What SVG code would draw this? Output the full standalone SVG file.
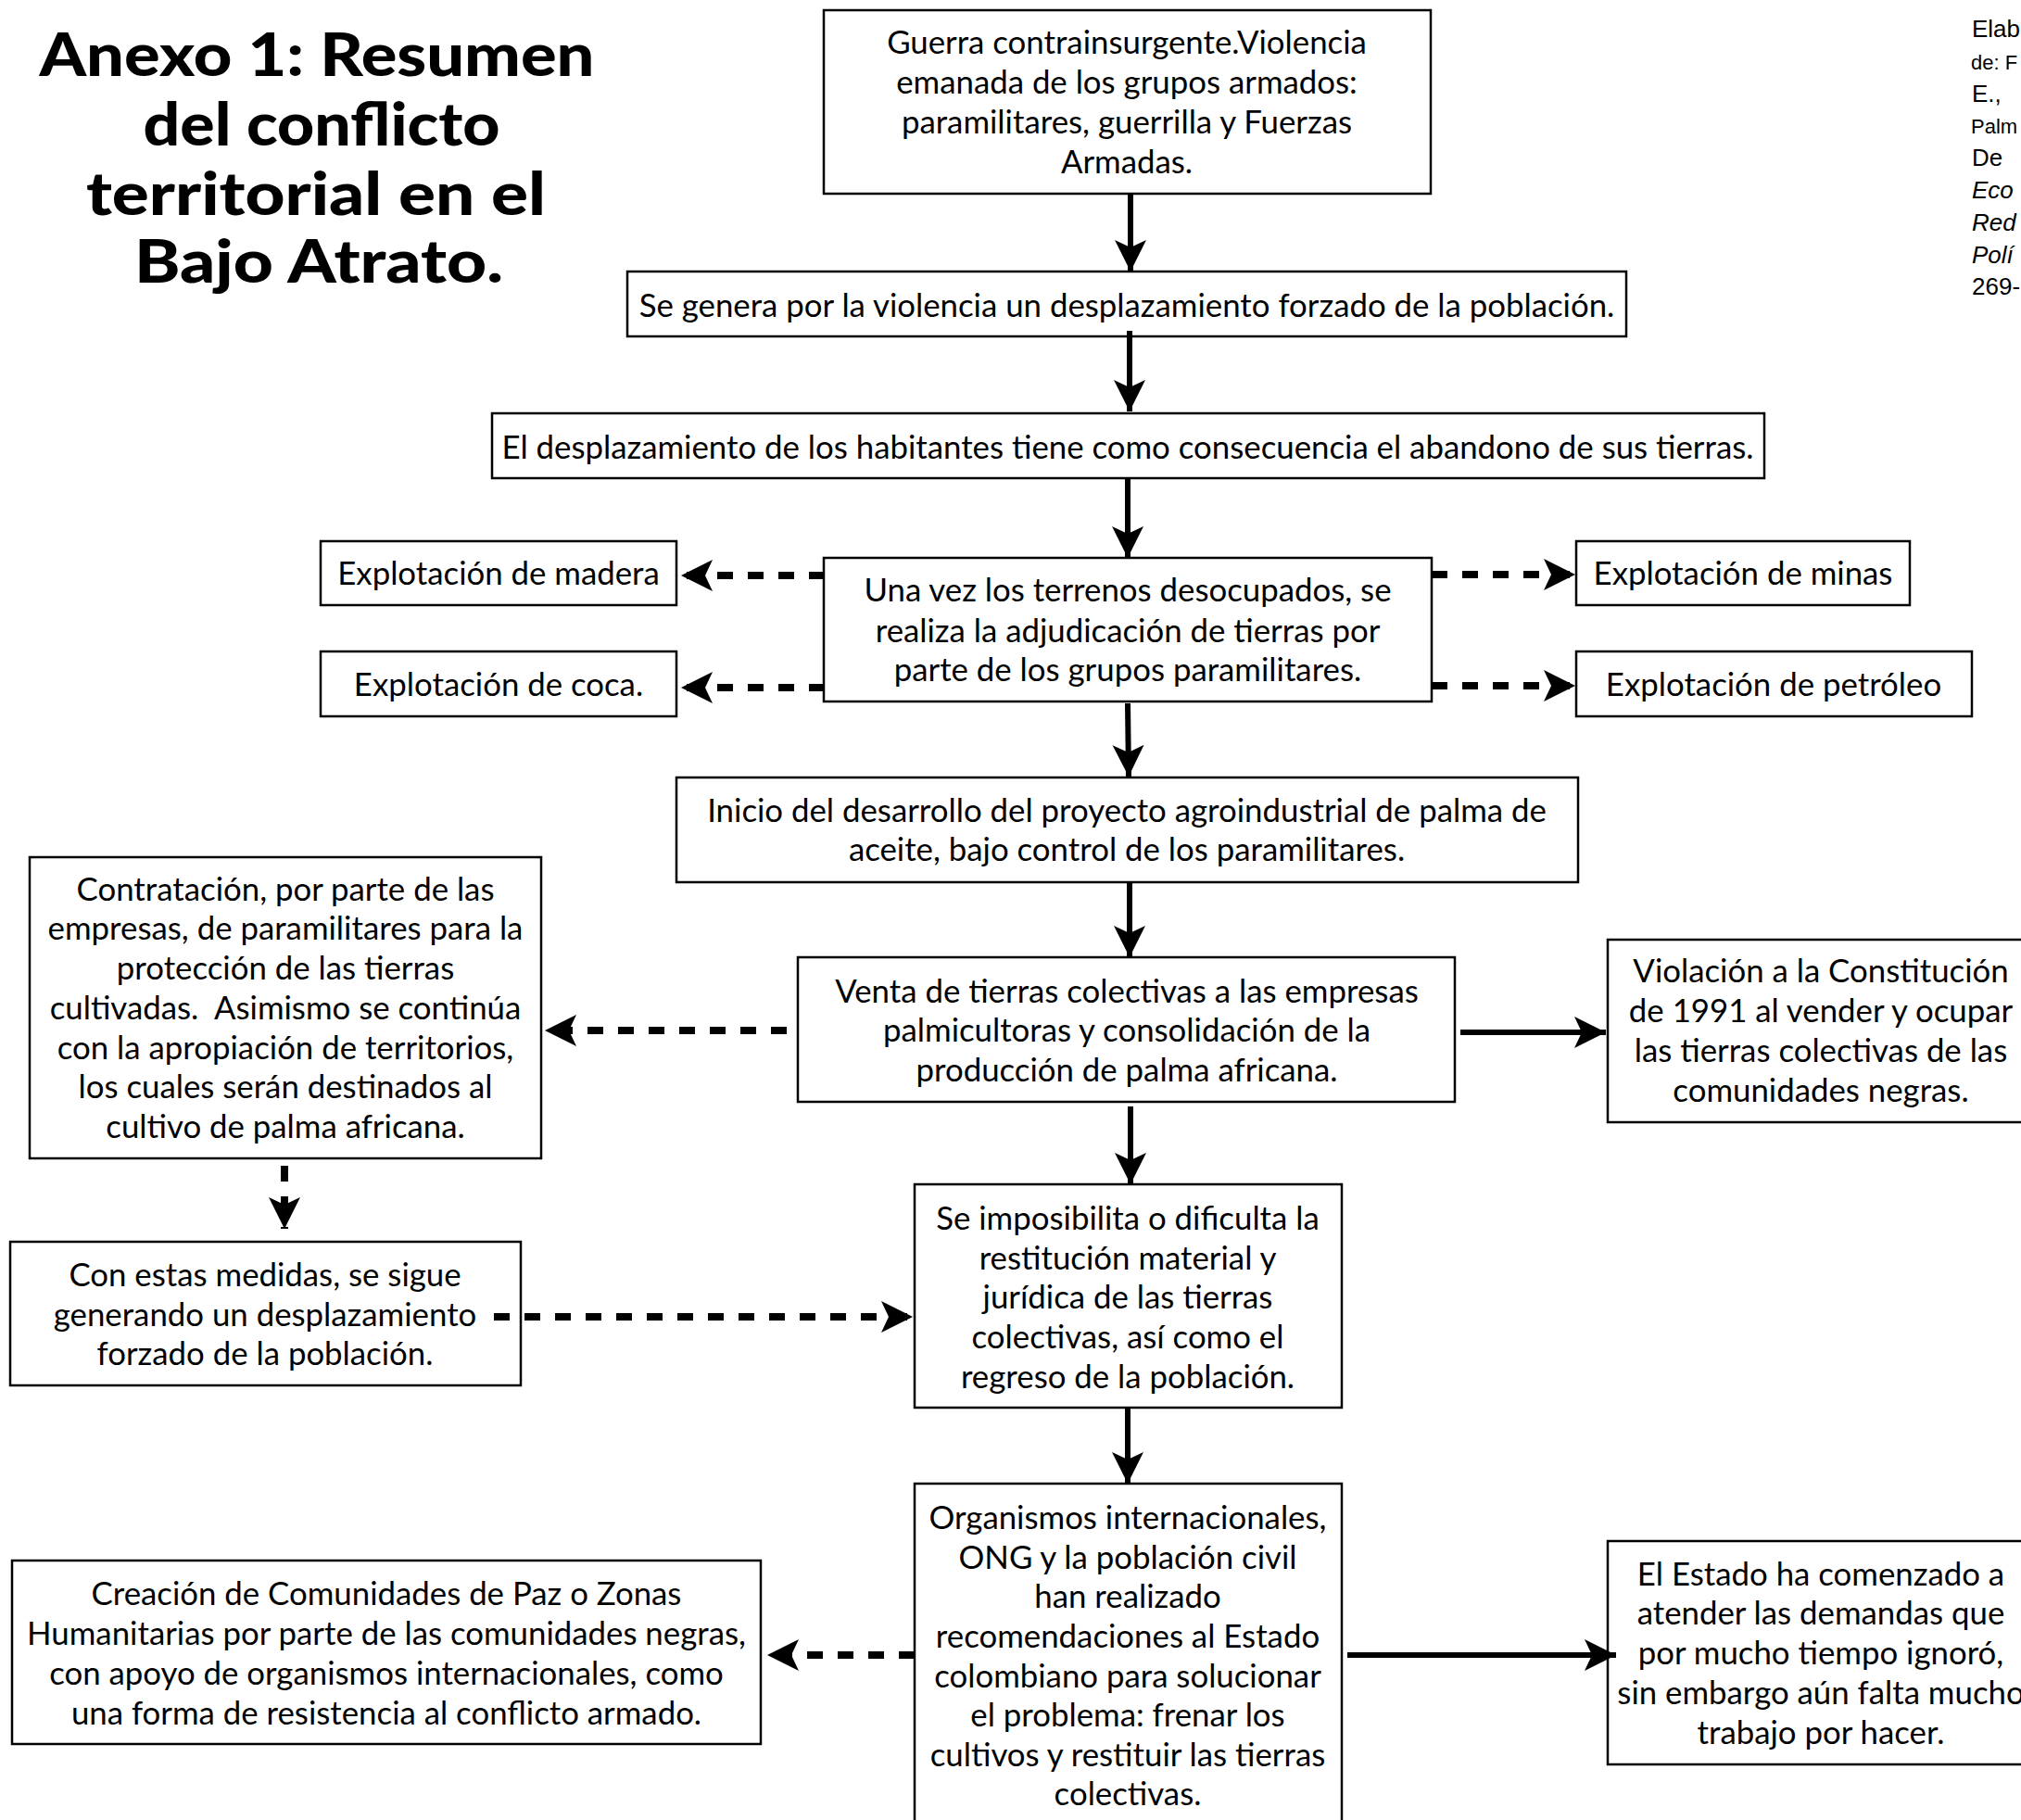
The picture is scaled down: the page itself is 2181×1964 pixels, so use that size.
<svg xmlns="http://www.w3.org/2000/svg" width="2181" height="1964" viewBox="0 0 2181 1964">
<style>
.box{fill:#fff;stroke:#000;stroke-width:2.5}
.t{font-family:Lato,"Open Sans","Liberation Sans",sans-serif;font-size:34.8px;fill:#000;text-anchor:middle}
.title{font-family:Lato,"Open Sans","Liberation Sans",sans-serif;font-weight:900;font-size:64px;fill:#000;text-anchor:middle}
.side{font-family:"Liberation Sans",Arial,sans-serif;font-size:26px;fill:#000}
.side.sm{font-size:22px}
.solid{stroke:#000;stroke-width:6;fill:none;marker-end:url(#ah)}
.dash{stroke:#000;stroke-width:8;fill:none;stroke-dasharray:17 16;marker-end:url(#ah)}
</style>
<defs>
<marker id="ah" markerUnits="userSpaceOnUse" viewBox="-34 -18 36 36" refX="0" refY="0" markerWidth="36" markerHeight="36" orient="auto">
<path d="M0,0 L-34,-17 L-26,0 L-34,17 Z" fill="#000"/>
</marker>
</defs>
<rect width="2181" height="1964" fill="#fff"/>

<g id="title">
<text class="title" x="342" y="82" textLength="599" lengthAdjust="spacingAndGlyphs">Anexo 1: Resumen</text>
<text class="title" x="347" y="157" textLength="385" lengthAdjust="spacingAndGlyphs">del conflicto</text>
<text class="title" x="341" y="232" textLength="496" lengthAdjust="spacingAndGlyphs">territorial en el</text>
<text class="title" x="344" y="305" textLength="398" lengthAdjust="spacingAndGlyphs">Bajo Atrato.</text>
</g>

<g id="source">
<text class="side" x="2128" y="40">Elab</text>
<text class="side sm" x="2127" y="75">de: F</text>
<text class="side" x="2128" y="110">E.,</text>
<text class="side sm" x="2127" y="144">Palm</text>
<text class="side" x="2128" y="179">De</text>
<text class="side" x="2128" y="214" font-style="italic">Eco</text>
<text class="side" x="2128" y="249" font-style="italic">Red</text>
<text class="side" x="2128" y="284" font-style="italic">Polí</text>
<text class="side" x="2128" y="318">269-</text>
</g>

<g id="n1">
<rect class="box" x="889" y="11" width="655" height="198"/>
<text class="t" x="1216" y="58">Guerra contrainsurgente.Violencia</text>
<text class="t" x="1216" y="101">emanada de los grupos armados:</text>
<text class="t" x="1216" y="144">paramilitares, guerrilla y Fuerzas</text>
<text class="t" x="1216" y="187">Armadas.</text>
</g>

<g id="n2">
<rect class="box" x="677" y="293" width="1078" height="70"/>
<text class="t" x="1216" y="342">Se genera por la violencia un desplazamiento forzado de la población.</text>
</g>

<g id="n3">
<rect class="box" x="531" y="446" width="1373" height="70"/>
<text class="t" x="1217" y="495">El desplazamiento de los habitantes tiene como consecuencia el abandono de sus tierras.</text>
</g>

<g id="n4">
<rect class="box" x="889" y="602" width="656" height="155"/>
<text class="t" x="1217" y="649">Una vez los terrenos desocupados, se</text>
<text class="t" x="1217" y="693">realiza la adjudicación de tierras por</text>
<text class="t" x="1217" y="735">parte de los grupos paramilitares.</text>
</g>

<g id="madera">
<rect class="box" x="346" y="584" width="384" height="69"/>
<text class="t" x="538" y="631">Explotación de madera</text>
</g>

<g id="coca">
<rect class="box" x="346" y="703" width="384" height="70"/>
<text class="t" x="538" y="751">Explotación de coca.</text>
</g>

<g id="minas">
<rect class="box" x="1701" y="584" width="360" height="69"/>
<text class="t" x="1881" y="631">Explotación de minas</text>
</g>

<g id="petroleo">
<rect class="box" x="1701" y="703" width="427" height="70"/>
<text class="t" x="1914" y="751">Explotación de petróleo</text>
</g>

<g id="n5">
<rect class="box" x="730" y="839" width="973" height="113"/>
<text class="t" x="1216" y="887">Inicio del desarrollo del proyecto agroindustrial de palma de</text>
<text class="t" x="1216" y="929">aceite, bajo control de los paramilitares.</text>
</g>

<g id="n6">
<rect class="box" x="861" y="1033" width="709" height="156"/>
<text class="t" x="1216" y="1082">Venta de tierras colectivas a las empresas</text>
<text class="t" x="1216" y="1124">palmicultoras y consolidación de la</text>
<text class="t" x="1216" y="1167">producción de palma africana.</text>
</g>

<g id="violacion">
<rect class="box" x="1735" y="1014" width="462" height="197"/>
<text class="t" x="1965" y="1060">Violación a la Constitución</text>
<text class="t" x="1965" y="1103">de 1991 al vender y ocupar</text>
<text class="t" x="1965" y="1146">las tierras colectivas de las</text>
<text class="t" x="1965" y="1189">comunidades negras.</text>
</g>

<g id="contratacion">
<rect class="box" x="32" y="925" width="552" height="325"/>
<text class="t" x="308" y="972">Contratación, por parte de las</text>
<text class="t" x="308" y="1014">empresas, de paramilitares para la</text>
<text class="t" x="308" y="1057">protección de las tierras</text>
<text class="t" x="308" y="1100" xml:space="preserve">cultivadas.  Asimismo se continúa</text>
<text class="t" x="308" y="1143">con la apropiación de territorios,</text>
<text class="t" x="308" y="1185">los cuales serán destinados al</text>
<text class="t" x="308" y="1228">cultivo de palma africana.</text>
</g>

<g id="conestas">
<rect class="box" x="11" y="1340" width="551" height="155"/>
<text class="t" x="286" y="1388">Con estas medidas, se sigue</text>
<text class="t" x="286" y="1431">generando un desplazamiento</text>
<text class="t" x="286" y="1473">forzado de la población.</text>
</g>

<g id="n7">
<rect class="box" x="987" y="1278" width="461" height="241"/>
<text class="t" x="1217" y="1327">Se imposibilita o dificulta la</text>
<text class="t" x="1217" y="1370">restitución material y</text>
<text class="t" x="1217" y="1412">jurídica de las tierras</text>
<text class="t" x="1217" y="1455">colectivas, así como el</text>
<text class="t" x="1217" y="1498">regreso de la población.</text>
</g>

<g id="n8">
<rect class="box" x="987" y="1601" width="461" height="380"/>
<text class="t" x="1217" y="1650">Organismos internacionales,</text>
<text class="t" x="1217" y="1693">ONG y la población civil</text>
<text class="t" x="1217" y="1735">han realizado</text>
<text class="t" x="1217" y="1778">recomendaciones al Estado</text>
<text class="t" x="1217" y="1821">colombiano para solucionar</text>
<text class="t" x="1217" y="1863">el problema: frenar los</text>
<text class="t" x="1217" y="1906">cultivos y restituir las tierras</text>
<text class="t" x="1217" y="1948">colectivas.</text>
</g>

<g id="creacion">
<rect class="box" x="13" y="1684" width="808" height="198"/>
<text class="t" x="417" y="1732">Creación de Comunidades de Paz o Zonas</text>
<text class="t" x="417" y="1775">Humanitarias por parte de las comunidades negras,</text>
<text class="t" x="417" y="1818">con apoyo de organismos internacionales, como</text>
<text class="t" x="417" y="1861">una forma de resistencia al conflicto armado.</text>
</g>

<g id="estado">
<rect class="box" x="1735" y="1663" width="462" height="241"/>
<text class="t" x="1965" y="1711">El Estado ha comenzado a</text>
<text class="t" x="1965" y="1753">atender las demandas que</text>
<text class="t" x="1965" y="1796">por mucho tiempo ignoró,</text>
<text class="t" x="1965" y="1839">sin embargo aún falta mucho</text>
<text class="t" x="1965" y="1882">trabajo por hacer.</text>
</g>

<g id="connectors">
<line class="solid" x1="1220" y1="209" x2="1220" y2="293"/>
<line class="solid" x1="1219" y1="357" x2="1219" y2="444"/>
<line class="solid" x1="1217" y1="516" x2="1217" y2="602"/>
<line class="solid" x1="1217" y1="759" x2="1218" y2="838"/>
<line class="solid" x1="1219" y1="952" x2="1219" y2="1033"/>
<line class="solid" x1="1220" y1="1194" x2="1220" y2="1278"/>
<line class="solid" x1="1217" y1="1519" x2="1217" y2="1601"/>
<line class="solid" x1="1576" y1="1114" x2="1733" y2="1114"/>
<line class="solid" x1="1454" y1="1786" x2="1744" y2="1786"/>
<line class="dash" x1="890" y1="621" x2="735" y2="621"/>
<line class="dash" x1="890" y1="742" x2="735" y2="742"/>
<line class="dash" x1="1545" y1="620" x2="1700" y2="620"/>
<line class="dash" x1="1545" y1="740" x2="1700" y2="740"/>
<line class="dash" x1="849" y1="1112" x2="588" y2="1112"/>
<line class="dash" x1="307" y1="1258" x2="307" y2="1326"/>
<line class="dash" x1="533" y1="1421" x2="985" y2="1421"/>
<line class="dash" x1="987" y1="1786" x2="828" y2="1786"/>
</g>
</svg>
